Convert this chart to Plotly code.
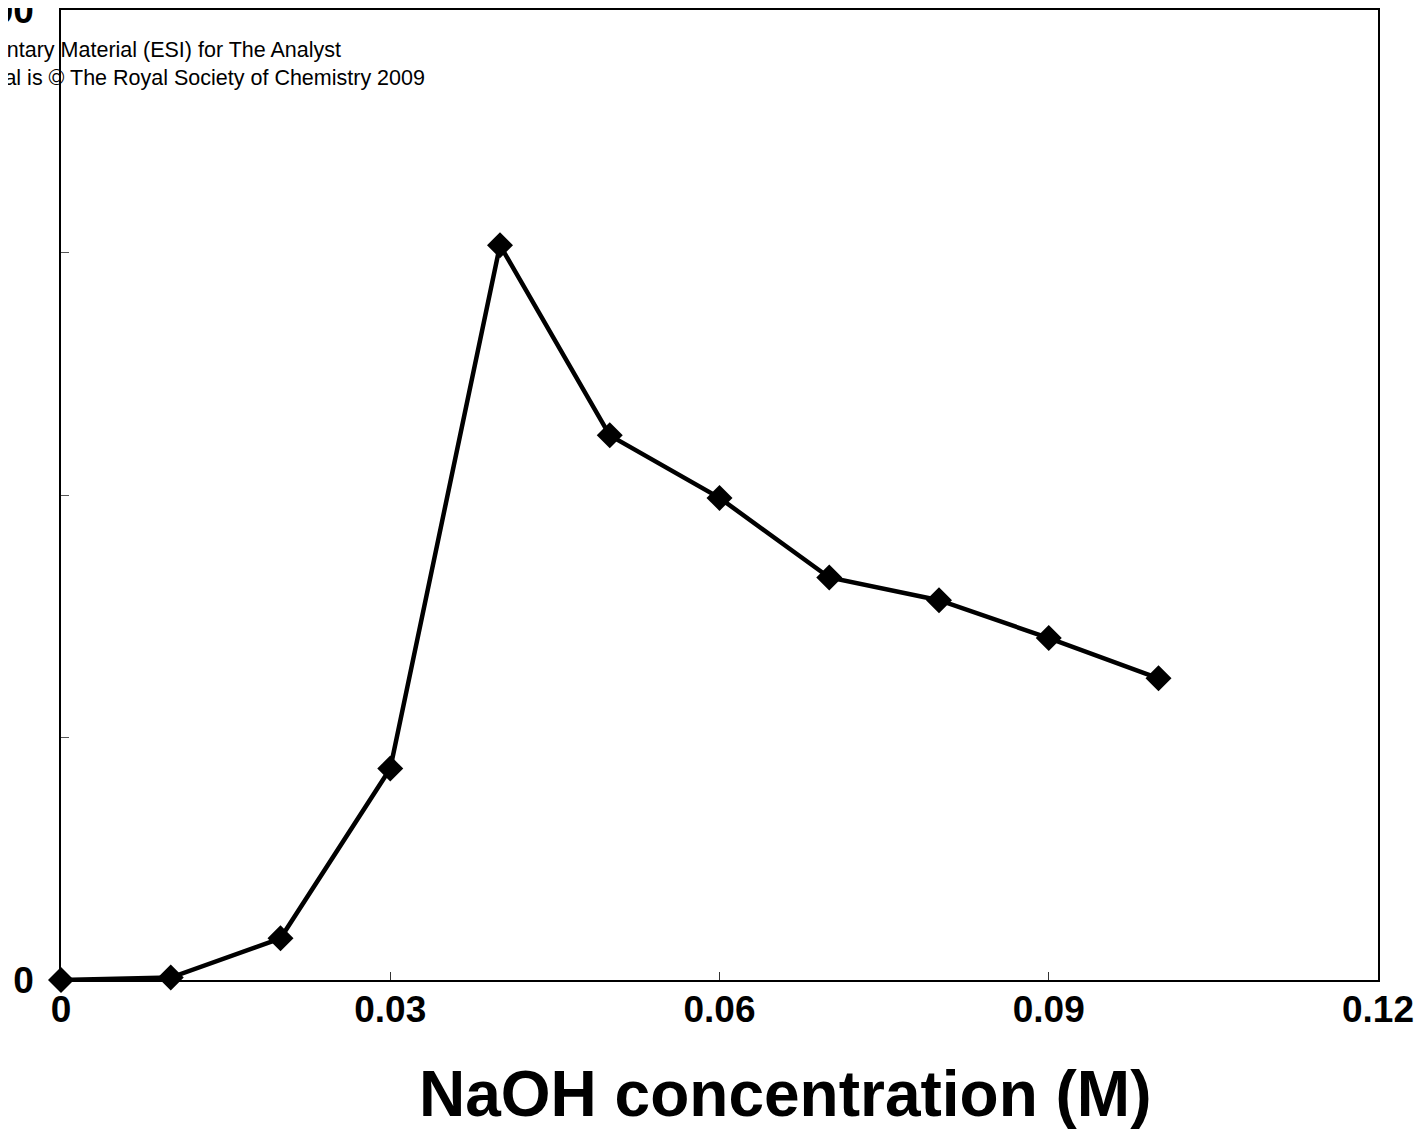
import plotly.graph_objects as go

naoh_conc = [0.0, 0.01, 0.02, 0.03, 0.04, 0.05, 0.06, 0.07, 0.08, 0.09, 0.10]
signal = [0.0, 0.5, 8.6, 43.6, 151.5, 112.3, 99.4, 83.0, 78.3, 70.5, 62.2]

x_ticks = [0, 0.03, 0.06, 0.09, 0.12]
x_ticktext = ["0", "0.03", "0.06", "0.09", "0.12"]
y_ticks = [0, 50, 100, 150, 200]
y_ticktext = ["0", "", "", "", "200"]

FONT = "Arial, Liberation Sans, sans-serif"

fig = go.Figure()
fig.add_trace(go.Scatter(
    x=naoh_conc, y=signal, mode="lines+markers",
    line=dict(color="black", width=4.5),
    marker=dict(symbol="diamond", size=20, color="black"),
    cliponaxis=False, showlegend=False,
))

fig.update_layout(
    width=1415, height=1124,
    margin=dict(l=53, r=45, t=2, b=152),
    paper_bgcolor="white", plot_bgcolor="white",
    font=dict(family=FONT, color="black"),
    xaxis=dict(
        range=[0, 0.12], tickvals=x_ticks, ticktext=x_ticktext,
        ticks="inside", ticklen=8, tickcolor="#333", tickwidth=1,
        showline=True, linecolor="black", linewidth=1.5, mirror=True,
        showgrid=False, zeroline=False, automargin=False,
        tickfont=dict(size=37, family=FONT, weight="bold"),
        ticklabelstandoff=-4, ticklabeloverflow="allow",
    ),
    yaxis=dict(
        range=[0, 200], tickvals=y_ticks, ticktext=y_ticktext,
        ticks="inside", ticklen=8, tickcolor="#555", tickwidth=1,
        showline=True, linecolor="black", linewidth=1.5, mirror=True,
        showgrid=False, zeroline=False, automargin=False,
        tickfont=dict(size=37, family=FONT, weight="bold"),
        ticklabelstandoff=18, ticklabeloverflow="allow",
    ),
)

# x-axis title (offset to the right as in the original)
fig.add_annotation(
    xref="paper", yref="paper",
    x=(785 - 61) / 1317, y=(980 - 1094) / 970,
    xanchor="center", yanchor="middle", showarrow=False,
    text="<b>NaOH concentration (M)</b>",
    font=dict(size=64, family=FONT, color="black"),
)

fig.add_annotation(
    xref="paper", yref="paper",
    x=(-92 - 61) / 1317, y=(980 - 64) / 970,
    xanchor="left", yanchor="middle", align="left", showarrow=False,
    text="Supplementary Material (ESI) for The Analyst<br>This journal is \u00a9 The Royal Society of Chemistry 2009",
    font=dict(size=21.5, family=FONT, color="black"),
)

fig.write_html("out.html")
